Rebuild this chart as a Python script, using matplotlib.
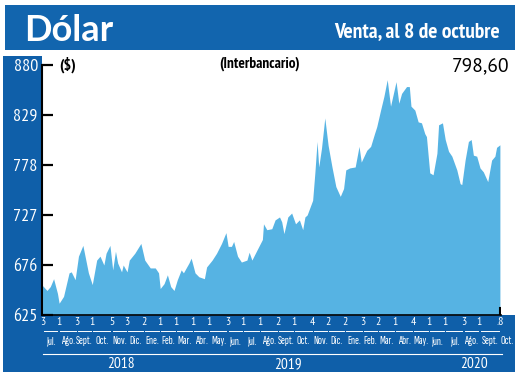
import matplotlib
matplotlib.use("Agg")
import matplotlib.pyplot as plt
import matplotlib.dates as mdates
import pandas as pd
from matplotlib.patches import Rectangle
from matplotlib.transforms import blended_transform_factory

# daily dollar rate (interbank, selling)
dates = [
    "2018-07-03", "2018-07-11", "2018-07-17", "2018-07-23", "2018-07-30", "2018-08-02",
    "2018-08-10", "2018-08-20", "2018-08-24", "2018-08-31", "2018-09-06", "2018-09-14",
    "2018-09-24", "2018-10-01", "2018-10-09", "2018-10-15", "2018-10-22", "2018-10-26",
    "2018-11-02", "2018-11-07", "2018-11-12", "2018-11-16", "2018-11-23", "2018-11-26",
    "2018-12-03", "2018-12-07", "2018-12-17", "2018-12-28", "2019-01-04", "2019-01-14",
    "2019-01-23", "2019-01-29", "2019-02-01", "2019-02-08", "2019-02-14", "2019-02-20",
    "2019-02-26", "2019-03-04", "2019-03-11", "2019-03-15", "2019-03-25", "2019-03-29",
    "2019-04-05", "2019-04-12", "2019-04-22", "2019-04-26", "2019-05-06", "2019-05-14",
    "2019-05-23", "2019-05-31", "2019-06-04", "2019-06-10", "2019-06-14", "2019-06-21",
    "2019-06-28", "2019-07-08", "2019-07-12", "2019-07-17", "2019-07-26", "2019-08-05",
    "2019-08-07", "2019-08-13", "2019-08-22", "2019-08-28", "2019-09-05", "2019-09-09",
    "2019-09-13", "2019-09-20", "2019-09-27", "2019-10-04", "2019-10-11", "2019-10-17",
    "2019-10-21", "2019-10-25", "2019-11-04", "2019-11-08", "2019-11-12", "2019-11-15",
    "2019-11-20", "2019-11-26", "2019-12-02", "2019-12-09", "2019-12-16", "2019-12-24",
    "2019-12-30", "2020-01-03", "2020-01-10", "2020-01-20", "2020-01-27", "2020-01-31",
    "2020-02-10", "2020-02-17", "2020-02-24", "2020-02-28", "2020-03-06", "2020-03-12",
    "2020-03-18", "2020-03-24", "2020-03-30", "2020-04-03", "2020-04-08", "2020-04-13",
    "2020-04-22", "2020-04-27", "2020-04-30", "2020-05-07", "2020-05-13", "2020-05-19",
    "2020-05-25", "2020-05-28", "2020-06-03", "2020-06-09", "2020-06-16", "2020-06-19",
    "2020-06-26", "2020-07-01", "2020-07-07", "2020-07-13", "2020-07-22", "2020-07-28",
    "2020-07-31", "2020-08-06", "2020-08-12", "2020-08-17", "2020-08-21", "2020-08-27",
    "2020-09-02", "2020-09-08", "2020-09-16", "2020-09-23", "2020-09-29", "2020-10-02",
    "2020-10-08",
]
values = [
    655, 650, 654, 662, 647, 637,
    644, 668, 669, 661, 685, 696,
    668, 656, 681, 685, 676, 688,
    696, 671, 690, 678, 669, 676,
    669, 681, 688, 698, 681, 673,
    673, 668, 652, 657, 666, 654,
    650, 661, 671, 668, 678, 683,
    668, 664, 662, 674, 681, 688,
    698, 709, 695, 695, 700, 685,
    679, 681, 689, 681, 691, 702,
    718, 712, 713, 722, 725, 720,
    708, 725, 729, 718, 722, 712,
    725, 727, 742, 770, 802, 776,
    795, 826, 798, 776, 756, 746,
    754, 773, 775, 776, 797, 781,
    793, 797, 810, 817, 834, 848,
    865, 838, 853, 863, 841, 851,
    858, 858, 838, 834, 822, 821,
    810, 807, 770, 768, 790, 819,
    821, 804, 792, 787, 773, 759,
    758, 783, 802, 804, 788, 787,
    775, 771, 761, 783, 787, 796,
    798.6,
]

# first trading day of every month shown on the axis
month_starts = [
    "2018-07-03", "2018-08-01", "2018-09-03", "2018-10-01", "2018-11-05", "2018-12-03",
    "2019-01-02", "2019-02-01", "2019-03-01", "2019-04-01", "2019-05-01", "2019-06-03",
    "2019-07-01", "2019-08-01", "2019-09-02", "2019-10-01", "2019-11-04", "2019-12-02",
    "2020-01-02", "2020-02-03", "2020-03-02", "2020-04-01", "2020-05-04", "2020-06-01",
    "2020-07-01", "2020-08-03", "2020-09-01", "2020-10-08",
]
month_days = ["3", "1", "3", "1", "5", "3", "2", "1", "1", "1", "1", "3", "1", "1",
              "2", "1", "4", "2", "2", "3", "2", "1", "4", "1", "1", "3", "1", ".8"]
month_names = ["Jul.", "Ago.", "Sept.", "Oct.", "Nov.", "Dic.",
               "Ene.", "Feb.", "Mar.", "Abr.", "May.", "Jun.", "Jul.", "Ago.", "Sept.", "Oct.", "Nov.", "Dic.",
               "Ene.", "Feb.", "Mar.", "Abr.", "May.", "Jun.", "Jul.", "Ago.", "Sept.", "Oct."]
years = ["2018", "2019", "2020"]
year_spans = [("2018-07-03", "2018-12-31"), ("2019-01-02", "2019-12-30"), ("2020-01-02", "2020-10-12")]
year_label_at = ["2018-11-22", "2019-09-20", "2020-08-22"]
yticks = [625, 676, 727, 778, 829, 880]
last_value = "798,60"

W, H = 520, 377
BANNER = "#1265ae"
BAND = "#0f5fa9"
AREA = "#56b3e3"
NARROW = ["PT Sans Narrow", "DejaVu Sans"]
XNARROW = ["Sofia Sans Extra Condensed", "PT Sans Narrow", "DejaVu Sans"]
plt.rcParams["font.family"] = NARROW

fig = plt.figure(figsize=(W / 100, H / 100), dpi=100)


def fx(x):
    return x / W


def fy(y):
    return 1 - y / H


# blue banner and the blue frame bands (pixel boxes from the top-left)
for x0, y0, x1, y1, c in [(5, 5, 515, 50, BANNER), (3, 56, 42, 316, BAND), (3, 315, 515, 372, BAND)]:
    fig.patches.append(Rectangle((fx(x0), fy(y1)), fx(x1 - x0), (y1 - y0) / H,
                                 transform=fig.transFigure, color=c, lw=0, zorder=-1))

fig.text(fx(24), fy(41), "Dólar", family=["Lato", "DejaVu Sans"], weight="bold", fontsize=26, color="white")
fig.text(fx(500), fy(37), "Venta, al 8 de octubre", fontsize=15.5, weight="bold", color="white", ha="right")
fig.text(fx(260), fy(68), "(Interbancario)", fontsize=11, weight="bold", ha="center")
fig.text(fx(68), fy(70), "($)", fontsize=11.5, weight="bold", ha="center")
fig.text(fx(509), fy(71), last_value, family=["PT Sans", "Liberation Sans"], fontsize=14, ha="right")

ax = fig.add_axes([fx(42), fy(315), fx(459), 250 / H])
d = pd.to_datetime(dates)
ax.fill_between(d, values, 625, color=AREA, lw=0)
ax.set_xlim(pd.Timestamp("2018-07-02"), pd.Timestamp("2020-10-10"))
ax.set_ylim(625, 880)
ax.set_yticks(yticks)
ax.set_xticks([])
ax.tick_params(axis="y", direction="in", length=8, width=1.6, color="black",
               labelcolor="white", labelsize=13, pad=3)
for s in ["top", "right"]:
    ax.spines[s].set_visible(False)
ax.spines["left"].set_linewidth(1.5)
ax.spines["bottom"].set_linewidth(1.2)
ax.axvline(d[-1], ymin=0, ymax=0.03, color="black", lw=1.5)

# month / year labels under the plot
tr = blended_transform_factory(ax.transData, fig.transFigure)
starts = [mdates.date2num(pd.Timestamp(s)) for s in month_starts]
ends = starts[1:] + [starts[-1] + 26]
for i, (s, e, day, name) in enumerate(zip(starts, ends, month_days, month_names)):
    ax.text(s, fy(322), day, transform=tr, ha="center", va="center", color="white", fontsize=8.5)
    ax.text((s + e) / 2, fy(341), name, transform=tr, ha="center", va="center",
            color="white", fontsize=8.5, family=XNARROW)
    if i < len(starts) - 1:
        ax.plot([s + 2, e - 2], [fy(331), fy(331)], transform=tr, color="white", lw=0.7, clip_on=False)

for yr, (a, b), at in zip(years, year_spans, year_label_at):
    a, b = mdates.date2num(pd.Timestamp(a)), mdates.date2num(pd.Timestamp(b))
    ax.plot([a, b], [fy(354), fy(354)], transform=tr, color="white", lw=0.8, clip_on=False)
    ax.text(mdates.date2num(pd.Timestamp(at)), fy(364), yr, transform=tr, ha="center",
            va="center", color="white", fontsize=11)

fig.savefig("out.png", dpi=100)
